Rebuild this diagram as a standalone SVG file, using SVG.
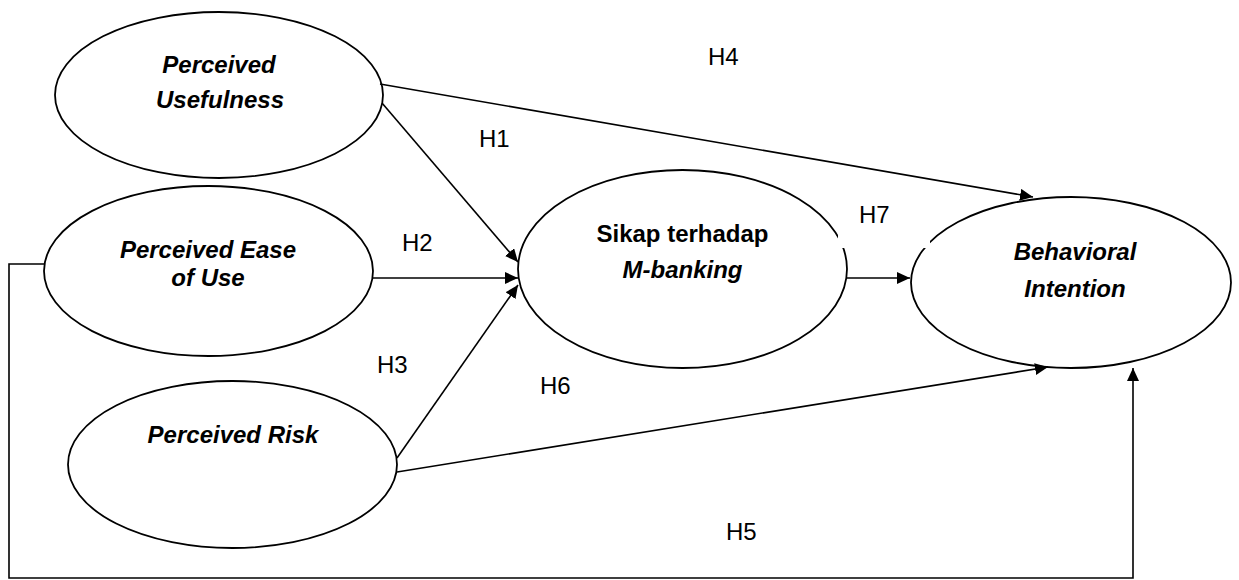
<svg xmlns="http://www.w3.org/2000/svg" width="1239" height="580" viewBox="0 0 1239 580">
  <style>
    .node ellipse { fill: #ffffff; stroke: #000000; stroke-width: 1.8; }
    .lbl { font-family: "Liberation Sans", Arial, sans-serif; font-size: 24px; font-weight: bold; font-style: italic; fill: #000000; text-anchor: middle; }
    .up { font-style: normal; }
    .conn { fill: none; stroke: #000000; stroke-width: 1.6; }
    .hyp { font-family: "Liberation Sans", Arial, sans-serif; font-size: 24px; fill: #000000; }
  </style>
  <defs>
    <marker id="arr" markerUnits="userSpaceOnUse" markerWidth="14" markerHeight="12" refX="13" refY="6" orient="auto">
      <path d="M0,0 L13,6 L0,12 z" fill="#000000"/>
    </marker>
  </defs>
  <rect width="1239" height="580" fill="#ffffff"/>

  <g id="pu" class="node">
    <ellipse cx="219" cy="95" rx="164" ry="83"/>
    <text class="lbl" x="219" y="73">Perceived</text>
    <text class="lbl" x="220" y="108">Usefulness</text>
  </g>
  <g id="peou" class="node">
    <ellipse cx="208.5" cy="271" rx="164.5" ry="85"/>
    <text class="lbl" x="208" y="258">Perceived Ease</text>
    <text class="lbl" x="208" y="286">of Use</text>
  </g>
  <g id="pr" class="node">
    <ellipse cx="232.5" cy="464.5" rx="164.5" ry="83.5"/>
    <text class="lbl" x="233" y="443">Perceived Risk</text>
  </g>
  <g id="sikap" class="node">
    <ellipse cx="682.5" cy="269" rx="164.5" ry="99"/>
    <text class="lbl up" x="682.5" y="242">Sikap terhadap</text>
    <text class="lbl" x="682.5" y="278">M-banking</text>
  </g>
  <g id="bi" class="node">
    <ellipse cx="1071" cy="282.5" rx="160" ry="85.5"/>
    <text class="lbl" x="1075" y="260">Behavioral</text>
    <text class="lbl" x="1075" y="297">Intention</text>
  </g>

  <g id="connectors">
    <line class="conn" x1="380" y1="84" x2="1033" y2="197" marker-end="url(#arr)"/>
    <line class="conn" x1="382" y1="103" x2="518" y2="262" marker-end="url(#arr)"/>
    <line class="conn" x1="373" y1="278" x2="518" y2="278" marker-end="url(#arr)"/>
    <line class="conn" x1="397" y1="458" x2="518" y2="285" marker-end="url(#arr)"/>
    <line class="conn" x1="397" y1="472" x2="1048" y2="367" marker-end="url(#arr)"/>
    <line class="conn" x1="847" y1="278" x2="910" y2="278" marker-end="url(#arr)"/>
    <path class="conn" d="M44,264 H9 V578 H1133 V368" marker-end="url(#arr)"/>
  </g>

  <g id="labels">
    <text class="hyp" x="708" y="65">H4</text>
    <text class="hyp" x="479" y="147">H1</text>
    <text class="hyp" x="402" y="251">H2</text>
    <rect x="838" y="196" width="92" height="52" fill="#ffffff"/>
    <text class="hyp" x="859" y="223">H7</text>
    <text class="hyp" x="377" y="373">H3</text>
    <text class="hyp" x="540" y="394">H6</text>
    <text class="hyp" x="726" y="540">H5</text>
  </g>
</svg>
